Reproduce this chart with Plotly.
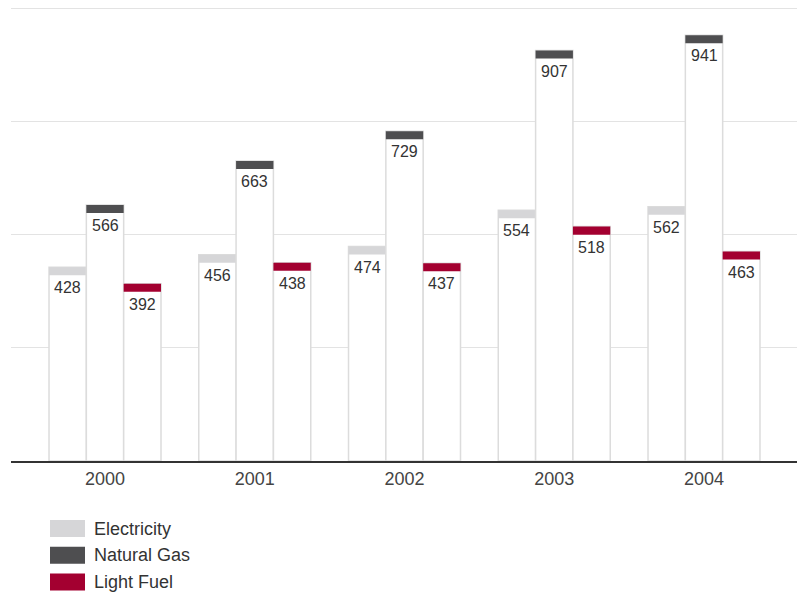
import plotly.graph_objects as go

years = ["2000", "2001", "2002", "2003", "2004"]
series_names = ["Electricity", "Natural Gas", "Light Fuel"]
electricity = [428, 456, 474, 554, 562]
natural_gas = [566, 663, 729, 907, 941]
light_fuel = [392, 438, 437, 518, 463]
series_values = [electricity, natural_gas, light_fuel]
colors = ["#d6d6d8", "#4e4e50", "#a30030"]

W, H = 800, 592
YMAX = 1010
ml, mr, mb = 11, 3, 131
px_per_unit = (H - mb - 9) / 1000
mt = H - mb - YMAX * px_per_unit
pw, ph = W - ml - mr, H - mt - mb
cap_units = 8 / px_per_unit

# x layout: group spacing 149.75px, first center at 105px
spacing = 149.75
first_center = 105
x0 = -(first_center - ml) / spacing
x1 = x0 + pw / spacing
bw = 37.33 / spacing

fig = go.Figure()
annotations = []
for j, (name, vals, col) in enumerate(zip(series_names, series_values, colors)):
    xs = [i + (j - 1) * bw for i in range(len(years))]
    fig.add_trace(go.Bar(x=xs, y=vals, width=bw, marker=dict(color="white", line=dict(color="#dcdcdc", width=1.5)),
                         showlegend=False, hoverinfo="skip"))
    fig.add_trace(go.Bar(x=xs, y=[cap_units] * len(vals), base=[v - cap_units for v in vals], width=bw,
                         marker=dict(color=col, line=dict(width=0)), showlegend=False, name=name))
    for x, v in zip(xs, vals):
        annotations.append(dict(x=x, y=v, xref="x", yref="y", text=str(v), showarrow=False,
                                yanchor="top", yshift=-10, font=dict(size=16, color="#333333")))

def px2paper_x(px):
    return (px - ml) / pw

def px2paper_y(py):
    return (H - mb - py) / ph

shapes = []
leg_top = 520
for k, (name, col) in enumerate(zip(series_names, colors)):
    top = leg_top + k * 26.7
    shapes.append(dict(type="rect", xref="paper", yref="paper", x0=px2paper_x(50), x1=px2paper_x(85),
                       y0=px2paper_y(top + 17), y1=px2paper_y(top), fillcolor=col, line=dict(width=0)))
    annotations.append(dict(x=px2paper_x(92), y=px2paper_y(top + 8.5), xref="paper", yref="paper", text=name,
                            showarrow=False, xanchor="left", yanchor="middle", font=dict(size=18, color="#333333")))

fig.update_layout(
    width=W, height=H, margin=dict(l=ml, r=mr, t=mt, b=mb),
    paper_bgcolor="white", plot_bgcolor="white", barmode="overlay",
    font=dict(family="Liberation Sans, Arial, sans-serif"),
    xaxis=dict(range=[x0, x1], tickvals=list(range(len(years))), ticktext=years, showgrid=False,
               showline=True, linecolor="#333333", linewidth=2, ticks="", zeroline=False,
               tickfont=dict(size=18, color="#444444")),
    yaxis=dict(range=[0, YMAX], tickvals=[250, 500, 750, 1000], showgrid=True, gridcolor="#e3e3e3", gridwidth=1,
               showticklabels=False, zeroline=False, ticks=""),
    annotations=annotations, shapes=shapes, showlegend=False,
)
fig.write_html("out.html", config={"displayModeBar": False},
               post_script="document.body.style.margin='0';document.body.style.padding='0';")
